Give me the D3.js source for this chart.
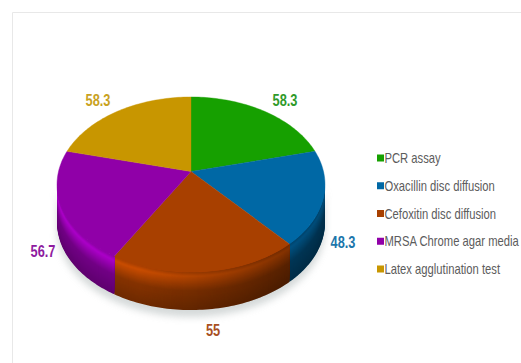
<!DOCTYPE html>
<html>
<head>
<meta charset="utf-8">
<script src="https://cdn.jsdelivr.net/npm/d3@7"></script>
<style>
  html, body { margin: 0; padding: 0; background: #fff; }
  svg { display: block; }
  text { font-family: "Liberation Sans", Arial, sans-serif; }
</style>
</head>
<body>
<svg id="chart" width="521" height="363"></svg>
<script>
const categories = ["PCR assay", "Oxacillin disc diffusion", "Cefoxitin disc diffusion", "MRSA Chrome agar media", "Latex agglutination test"];
const values = [58.3, 48.3, 55, 56.7, 58.3];
const colors = ["#16a000", "#0068a5", "#a84000", "#9000a8", "#c89600"];
const labelColors = ["#2f9a2a", "#1c76ab", "#a8501e", "#8e1ba0", "#c9a21e"];
const labelSpots = [[285, 100], [343, 242], [213, 330], [43, 251], [98, 100]];

const svg = d3.select("#chart");
const defs = svg.append("defs");
defs.append("filter").attr("id", "soft").attr("x", "-20%").attr("y", "-20%").attr("width", "140%").attr("height", "140%")
  .append("feGaussianBlur").attr("stdDeviation", 3.5);
const falloff = defs.append("linearGradient").attr("id", "falloff")
  .attr("gradientUnits", "userSpaceOnUse").attr("x1", 60).attr("x2", 325).attr("y1", 0).attr("y2", 0);
falloff.append("stop").attr("offset", 0).attr("stop-color", "#000").attr("stop-opacity", 0);
falloff.append("stop").attr("offset", 0.3).attr("stop-color", "#000").attr("stop-opacity", 0);
falloff.append("stop").attr("offset", 0.85).attr("stop-color", "#000").attr("stop-opacity", 0.34);
falloff.append("stop").attr("offset", 1).attr("stop-color", "#000").attr("stop-opacity", 0.4);

// Frame of the plot area
svg.append("path").attr("d", "M12.5,363V12.5H521").attr("fill", "none").attr("stroke", "#e8e8e8");

// Disc tilted away from the viewer: pie angle -> screen position
const apex = [191, 171.5], spanX = 132.5, spanY = 85.6, tilt = 0.1486, depth = 38;
const project = (a, drop = 0) => {
  const x = Math.sin(a), y = Math.cos(a), w = 1 + tilt * y;
  return [apex[0] + spanX * x / w, apex[1] - spanY * y / w + drop];
};
const arcPoints = (a0, a1, drop = 0) =>
  d3.range(0, 61).map(i => project(a0 + (a1 - a0) * i / 60, drop));
const line = d3.line();
const band = (a0, a1, drop) => line([...arcPoints(a0, a1, 0), ...arcPoints(a0, a1, drop).reverse()]) + "Z";

const arcs = d3.pie().sort(null).value(d => d)(values);

// Only the near part of the rim shows its side wall
const nearFrom = Math.acos(-tilt), nearTo = 2 * Math.PI - nearFrom;

// Soft ground shadow
svg.append("path")
  .attr("d", band(nearFrom, nearTo, depth + 7))
  .attr("fill", "#c4caca").attr("opacity", 0.7).attr("filter", "url(#soft)");

// Side wall: bands painted from the bottom up, lit just under the rim
const wall = svg.append("g");
arcs.forEach((d, i) => {
  const a0 = Math.max(d.startAngle, nearFrom), a1 = Math.min(d.endAngle, nearTo);
  if (a0 >= a1) return;
  const base = d3.color(colors[i]);
  const shade = d3.scaleLinear()
    .domain([0, 0.12, 0.5, 1])
    .range([base.darker(0.1), base.brighter(0.5), base.darker(0.65), base.darker(1.15)])
    .interpolate(d3.interpolateRgb);
  d3.range(depth, 0, -1).forEach(step => {
    wall.append("path").attr("d", band(a0, a1, step)).attr("fill", shade(step / depth));
  });
});
// Light falls off toward the right of the wall
svg.append("path").attr("d", band(nearFrom, nearTo, depth)).attr("fill", "url(#falloff)");

// Top face
svg.append("g").selectAll("path").data(arcs).join("path")
  .attr("d", d => line([apex, ...arcPoints(d.startAngle, d.endAngle)]) + "Z")
  .attr("fill", (d, i) => colors[i])
  .attr("stroke", (d, i) => colors[i])
  .attr("stroke-width", 0.4);

// Value labels, condensed horizontally
svg.append("g").selectAll("text").data(values).join("text")
  .attr("transform", (d, i) => `translate(${labelSpots[i][0]},${labelSpots[i][1] + 6}) scale(0.8,1)`)
  .attr("text-anchor", "middle")
  .attr("font-size", 16)
  .attr("font-weight", "bold")
  .attr("fill", (d, i) => labelColors[i])
  .text(d => d);

// Legend
const legendY = d3.scalePoint().domain(categories).range([158, 269]);
const legend = svg.append("g").selectAll("g").data(categories).join("g")
  .attr("transform", d => `translate(377,${legendY(d)})`);
legend.append("rect").attr("x", 0).attr("y", -3.5).attr("width", 7).attr("height", 7)
  .attr("fill", (d, i) => colors[i]);
legend.append("text").attr("transform", "translate(7.5,5) scale(0.775,1)")
  .attr("font-size", 14.5).attr("fill", "#5c5c5c").text(d => d);
</script>
</body>
</html>
